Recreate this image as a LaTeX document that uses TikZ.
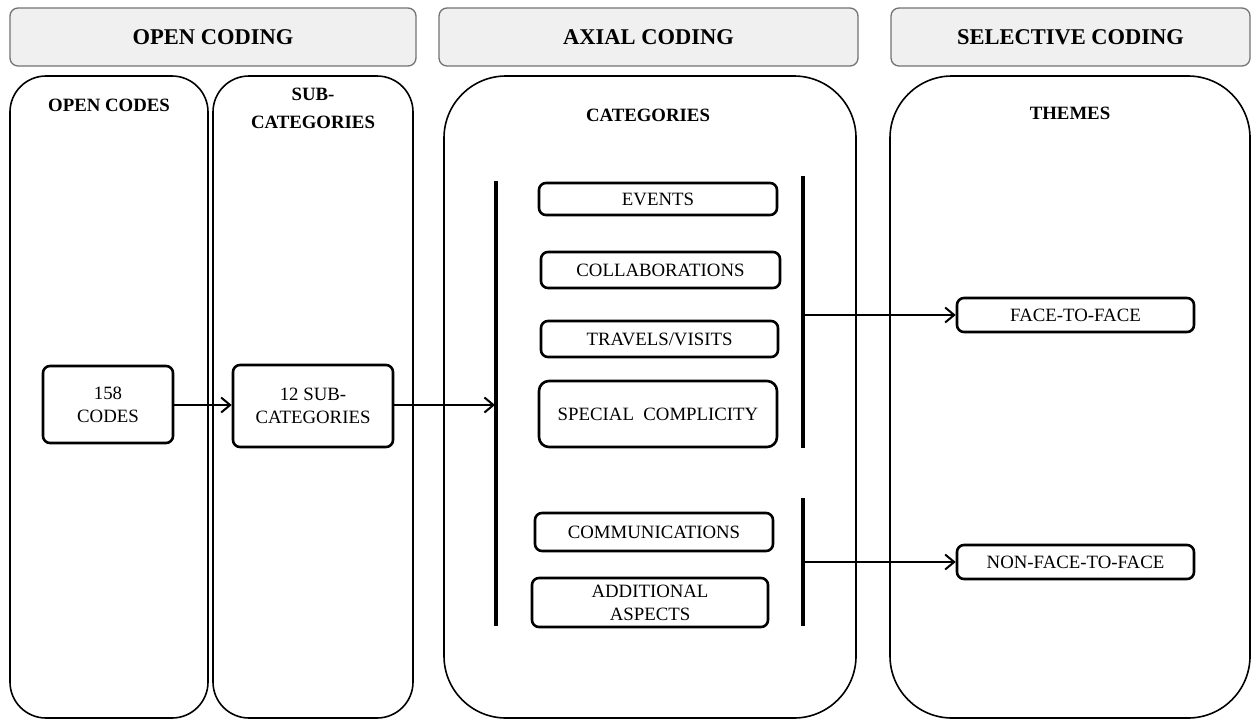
\documentclass[tikz,border=0pt]{standalone}
\usepackage{fontspec}
\setmainfont{Liberation Serif}
\usetikzlibrary{arrows.meta}
\begin{document}
\begin{tikzpicture}[x=1pt,y=-1pt,
  hdr/.style={draw=black!55, fill=black!6, line width=1.3pt, rounded corners=8pt,
    minimum height=58pt, font=\fontsize{22.5}{26}\selectfont\bfseries, inner sep=0pt},
  panel/.style={draw=black, line width=1.6pt, fill=white, inner sep=0pt},
  ptitle/.style={font=\fontsize{18.8}{28}\selectfont\bfseries, align=center},
  cbox/.style={draw=black, line width=2.6pt, fill=white, rounded corners=7pt,
    font=\fontsize{18.8}{23}\selectfont, align=center, inner sep=0pt},
  bar/.style={line width=3.4pt},
  arr/.style={line width=1.8pt, -{Straight Barb[length=9pt,width=15pt,line width=2pt]}}
]
\useasboundingbox (0,0) rectangle (1257,720);
\fill[white] (0,0) rectangle (1257,720);

% headers
\node[hdr, minimum width=406pt] (h1) at (213,37) {OPEN CODING};
\node[hdr, minimum width=419pt] (h2) at (648.5,37) {AXIAL CODING};
\node[hdr, minimum width=359pt] (h3) at (1070.5,37) {SELECTIVE CODING};

% panels
\node[panel, rounded corners=36pt, minimum width=198pt, minimum height=642pt] (p1) at (109,397) {};
\node[panel, rounded corners=36pt, minimum width=200pt, minimum height=642pt] (p2) at (313,397) {};
\node[panel, rounded corners=62pt, minimum width=412pt, minimum height=642pt] (p3) at (650,397) {};
\node[panel, rounded corners=62pt, minimum width=360pt, minimum height=642pt] (p4) at (1070,397) {};

\node[ptitle] (t1) at (109,105) {OPEN CODES};
\node[ptitle] (t2) at (313,108) {SUB-\\CATEGORIES};
\node[ptitle] (t3) at (648,115) {CATEGORIES};
\node[ptitle] (t4) at (1070,113) {THEMES};

% bars
\coordinate (bl1) at (496,181);
\coordinate (bl2) at (496,626);
\coordinate (bu1) at (803,176);
\coordinate (bu2) at (803,448);
\coordinate (bd1) at (803,498);
\coordinate (bd2) at (803,626);
\draw[bar] (bl1) -- (bl2);
\draw[bar] (bu1) -- (bu2);
\draw[bar] (bd1) -- (bd2);

\coordinate (inL) at (495,405);
\coordinate (outU) at (803,315);
\coordinate (outD) at (803,562);

% boxes
\node[cbox, minimum width=130pt, minimum height=77pt] (c158) at (108,404.5) {158\\CODES};
\node[cbox, minimum width=160pt, minimum height=82pt] (c12) at (313,406) {12 SUB-\\CATEGORIES};

\node[cbox, minimum width=238pt, minimum height=32pt] (ev) at (658,199) {EVENTS};
\node[cbox, minimum width=239pt, minimum height=36pt] (col) at (660.5,270) {COLLABORATIONS};
\node[cbox, minimum width=237pt, minimum height=36pt] (trv) at (659.5,339) {TRAVELS/VISITS};
\node[cbox, minimum width=238pt, minimum height=66pt, rounded corners=10pt] (spc) at (658,414) {SPECIAL\hspace{0.5em}COMPLICITY};
\node[cbox, minimum width=238pt, minimum height=38pt] (com) at (654,532) {COMMUNICATIONS};
\node[cbox, minimum width=236pt, minimum height=49pt] (add) at (650,602.5) {ADDITIONAL\\ASPECTS};

\node[cbox, minimum width=237pt, minimum height=34pt] (f2f) at (1075.5,315) {FACE-TO-FACE};
\node[cbox, minimum width=237pt, minimum height=34pt] (nf2f) at (1075.5,562) {NON-FACE-TO-FACE};

% arrows
\draw[arr] (c158.east |- 0,405) -- (c12.west |- 0,405);
\draw[arr] (c12.east |- 0,405) -- (inL);
\draw[arr] (outU) -- (f2f.west);
\draw[arr] (outD) -- (nf2f.west);
\end{tikzpicture}
\end{document}
